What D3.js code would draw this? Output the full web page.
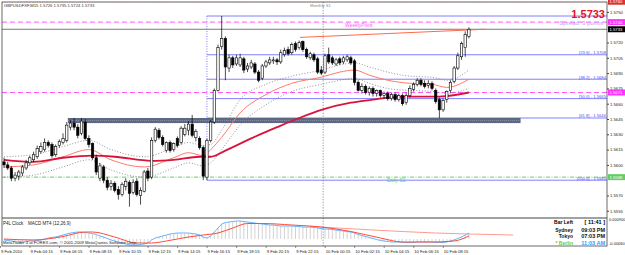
<!DOCTYPE html>
<html>
<head>
<meta charset="utf-8">
<script src="https://cdn.jsdelivr.net/npm/d3@7"></script>
<style>
  body { margin: 0; background: #fff; }
  svg text { font-family: "Liberation Sans", Arial, sans-serif; }
</style>
</head>
<body>
<div id="chart"></div>
<script>
// GBPUSD M15 bars, 9 Feb 02:15 .. 10 Feb 09:45
const opens = [1.5603,1.5600,1.5597,1.5587,1.5589,1.5592,1.5597,1.5602,1.5605,1.5608,
  1.5613,1.5615,1.5622,1.5620,1.5610,1.5619,1.5622,1.5624,1.5637,1.5641,
  1.5637,1.5631,1.5642,1.5626,1.5621,1.5607,1.5587,1.5598,1.5585,1.5579,
  1.5582,1.5576,1.5571,1.5579,1.5583,1.5573,1.5584,1.5570,1.5574,1.5594,
  1.5588,1.5624,1.5634,1.5627,1.5614,1.5622,1.5615,1.5626,1.5622,1.5630,
  1.5634,1.5640,1.5627,1.5626,1.5617,1.5588,1.5624,1.5642,1.5673,1.5716,
  1.5724,1.5695,1.5705,1.5699,1.5698,1.5704,1.5694,1.5696,1.5699,1.5691,
  1.5685,1.5697,1.5700,1.5702,1.5703,1.5701,1.5708,1.5713,1.5710,1.5719,
  1.5715,1.5721,1.5713,1.5705,1.5708,1.5704,1.5693,1.5691,1.5708,1.5705,
  1.5699,1.5704,1.5701,1.5703,1.5705,1.5702,1.5681,1.5673,1.5677,1.5671,
  1.5675,1.5670,1.5673,1.5668,1.5670,1.5665,1.5669,1.5664,1.5668,1.5661,
  1.5668,1.5674,1.5679,1.5683,1.5680,1.5678,1.5680,1.5673,1.5664,1.5654,
  1.5664,1.5673,1.5682,1.5695,1.5706,1.5715,1.5726];
const highs = [1.5607,1.5603,1.5599,1.5593,1.5595,1.5600,1.5605,1.5609,1.5613,1.5619,
  1.5622,1.5626,1.5624,1.5622,1.5620,1.5625,1.5631,1.5642,1.5644,1.5646,
  1.5640,1.5646,1.5645,1.5629,1.5622,1.5610,1.5602,1.5600,1.5588,1.5585,
  1.5584,1.5579,1.5583,1.5587,1.5585,1.5586,1.5587,1.5578,1.5595,1.5597,
  1.5627,1.5637,1.5636,1.5629,1.5623,1.5624,1.5622,1.5628,1.5638,1.5640,
  1.5643,1.5649,1.5635,1.5628,1.5619,1.5626,1.5644,1.5675,1.5718,1.5746,
  1.5726,1.5708,1.5707,1.5708,1.5709,1.5706,1.5700,1.5703,1.5701,1.5693,
  1.5699,1.5703,1.5706,1.5706,1.5705,1.5713,1.5715,1.5716,1.5720,1.5721,
  1.5722,1.5722,1.5715,1.5711,1.5710,1.5706,1.5697,1.5709,1.5715,1.5707,
  1.5705,1.5706,1.5707,1.5708,1.5707,1.5704,1.5683,1.5680,1.5679,1.5677,
  1.5677,1.5674,1.5674,1.5672,1.5672,1.5671,1.5671,1.5670,1.5670,1.5671,
  1.5678,1.5681,1.5685,1.5685,1.5683,1.5683,1.5682,1.5675,1.5666,1.5665,
  1.5673,1.5683,1.5697,1.5710,1.5721,1.5731,1.5735];
const lows = [1.5597,1.5595,1.5584,1.5584,1.5585,1.5589,1.5595,1.5600,1.5603,1.5606,
  1.5611,1.5613,1.5617,1.5607,1.5608,1.5617,1.5620,1.5622,1.5634,1.5634,
  1.5626,1.5629,1.5624,1.5617,1.5605,1.5590,1.5584,1.5582,1.5575,1.5575,
  1.5573,1.5566,1.5569,1.5575,1.5559,1.5571,1.5569,1.5561,1.5573,1.5584,
  1.5586,1.5622,1.5625,1.5618,1.5612,1.5612,1.5613,1.5617,1.5620,1.5628,
  1.5629,1.5627,1.5623,1.5615,1.5585,1.5585,1.5622,1.5640,1.5672,1.5713,
  1.5683,1.5691,1.5695,1.5697,1.5696,1.5690,1.5691,1.5694,1.5689,1.5681,
  1.5683,1.5695,1.5698,1.5699,1.5698,1.5699,1.5706,1.5707,1.5708,1.5711,
  1.5713,1.5711,1.5704,1.5703,1.5701,1.5689,1.5688,1.5689,1.5699,1.5698,
  1.5697,1.5698,1.5699,1.5701,1.5698,1.5678,1.5672,1.5670,1.5669,1.5668,
  1.5667,1.5667,1.5666,1.5665,1.5663,1.5663,1.5662,1.5662,1.5658,1.5659,
  1.5666,1.5672,1.5677,1.5677,1.5675,1.5675,1.5673,1.5660,1.5646,1.5652,
  1.5661,1.5671,1.5680,1.5693,1.5703,1.5706,1.5724];
const closes = [1.5600,1.5597,1.5587,1.5590,1.5593,1.5598,1.5602,1.5607,1.5610,1.5616,
  1.5618,1.5622,1.5619,1.5609,1.5618,1.5623,1.5626,1.5639,1.5641,1.5637,
  1.5629,1.5643,1.5626,1.5620,1.5607,1.5593,1.5599,1.5585,1.5578,1.5582,
  1.5575,1.5571,1.5581,1.5584,1.5572,1.5583,1.5571,1.5575,1.5593,1.5587,
  1.5624,1.5635,1.5627,1.5620,1.5622,1.5614,1.5621,1.5619,1.5636,1.5636,
  1.5640,1.5629,1.5633,1.5617,1.5589,1.5624,1.5642,1.5673,1.5715,1.5724,
  1.5696,1.5705,1.5698,1.5705,1.5705,1.5693,1.5697,1.5700,1.5691,1.5683,
  1.5697,1.5701,1.5703,1.5703,1.5701,1.5710,1.5712,1.5709,1.5718,1.5713,
  1.5720,1.5713,1.5706,1.5709,1.5703,1.5691,1.5690,1.5707,1.5701,1.5700,
  1.5703,1.5700,1.5705,1.5706,1.5700,1.5681,1.5673,1.5677,1.5671,1.5675,
  1.5670,1.5673,1.5668,1.5670,1.5665,1.5669,1.5664,1.5668,1.5660,1.5668,
  1.5675,1.5679,1.5683,1.5679,1.5677,1.5680,1.5675,1.5662,1.5654,1.5663,
  1.5672,1.5681,1.5695,1.5707,1.5719,1.5728,1.5733];

// moving averages / envelope, read at a few bars
const slowBars = [0,8,16,24,30,40,46,53,56,60,67,74,80,86,94,100,104,109,118,126];
const slowMA = [1.5605,1.5603,1.5607,1.5609,1.5608,1.5604,1.5605,1.5608,1.5608,1.5614,
  1.5626,1.5637,1.5646,1.5654,1.5661,1.5664,1.5666,1.5667,1.5667,1.5671];
const fastBars = [0,8,16,23,29,38,46,50,54,56,59,64,71,78,86,91,95,99,104,110,116,120,126];
const fastMA = [1.5598,1.5600,1.5608,1.5615,1.5605,1.5598,1.5607,1.5612,1.5609,1.5615,1.5627,
  1.5651,1.5669,1.5680,1.5686,1.5691,1.5693,1.5688,1.5683,1.5680,1.5679,1.5676,1.5684];
const bandUpper = [1.5608,1.5610,1.5618,1.5624,1.5615,1.5608,1.5617,1.5622,1.5619,1.5620,1.5634,
  1.5664,1.5679,1.5687,1.5693,1.5698,1.5700,1.5696,1.5691,1.5687,1.5686,1.5683,1.5693];
const bandLower = [1.5588,1.5590,1.5598,1.5605,1.5595,1.5588,1.5597,1.5602,1.5599,1.5602,1.5615,
  1.5639,1.5659,1.5672,1.5679,1.5683,1.5685,1.5680,1.5675,1.5673,1.5672,1.5670,1.5675];

// MACD (x 0.0001)
const macdMain = [-1,-1.5,-2,-2.5,-3,-3,-2.5,-2,-2,-1.5,
  -1,0,1,1.5,2,3,4,5,6,6.5,
  7,7,6.5,6,5.5,4.5,3,2,0.5,-1,
  -2,-3,-4,-5,-6,-6,-6,-5.5,-5,-4,
  -1,1,2,3,4,5,5.5,6,6,6,
  6,5.5,5,4,2,1,3,7,11,15,
  16.5,17,17.5,18,18,17.5,17,16.5,16,15.5,
  15,14.5,14,14,13.5,13,13,13,13,12.5,
  12.5,12,12,12,11.5,11,10.5,10,10,9.5,
  9,8.5,8,7.5,7,6,4.5,3.5,2.5,1.5,
  0.5,-0.5,-1.5,-2,-2.5,-3,-3,-3,-3.5,-3.5,
  -3.5,-3.5,-3,-3,-3,-3,-3,-3.5,-3.5,-3.5,
  -3,-2,-1,0.5,2,4,6];
const signalBars = [0,8,16,22,24,30,36,40,44,50,54,58,62,66,70,78,86,94,102,108,116,122,126];
const signalVals = [0,-1,2.5,7,7,2,-4,-4,-2,2,4,6,11,15.5,15.5,14,12,7.5,1,-3,-3,-2,3];
// shifted slow line that runs past the last bar
const shiftBars = [83,100,117,126,138];
const shiftVals = [12.5,9,6,5,4];

// objects
const fibRatios = ['0.0','23.6','38.2','50.0','61.8','100.0'];
const fibPrices = [1.5746,1.5708,1.5684,1.5665,1.5646,1.5585];
const fibStartBar = 55;
const bidPrice = 1.5733, weeklyPivot = 1.5740, dailyPivot = 1.5671, dailyS1 = 1.5588, monthlyLine = 1.5760;
const zonePrices = [1.5646, 1.5641], zoneBars = [17.3, 140];
const trendBars = [80.2, 130.4], trendPrices = [1.5725, 1.5733];
const separatorBar = 86.5;

// 1.5735 and 1.5585 sit under the price boxes
const priceTicks = [1.5750,1.5720,1.5705,1.5690,1.5675,1.5660,1.5645,1.5630,1.5615,1.5600,1.5570,1.5555];
const timeLabels = ['9 Feb 2010','9 Feb 04:15','9 Feb 06:15','9 Feb 08:15','9 Feb 10:15','9 Feb 12:15',
  '9 Feb 14:15','9 Feb 16:15','9 Feb 18:15','9 Feb 20:15','9 Feb 22:15','10 Feb 00:15',
  '10 Feb 02:15','10 Feb 04:15','10 Feb 06:15','10 Feb 08:15'];

const W = 625, H = 255;
const L = 2, R = 607, T = 2, MB = 218, IB = 246;

const svg = d3.select('#chart').append('svg').attr('width', W).attr('height', H);

const x = d3.scaleLinear().domain([0, 126]).range([4, 468.9]);
const y = d3.scaleLinear().domain([1.5746, 1.5585]).range([16, 180.2]);
const ym = d3.scaleLinear().domain([0, 18]).range([239, 221]);

svg.append('clipPath').attr('id', 'cm').append('rect').attr('x', L).attr('y', T).attr('width', R - L).attr('height', MB - T);
svg.append('clipPath').attr('id', 'ci').append('rect').attr('x', L).attr('y', MB).attr('width', R - L).attr('height', IB - MB);

const main = svg.append('g').attr('clip-path', 'url(#cm)');
const ind = svg.append('g').attr('clip-path', 'url(#ci)');

// horizontal levels
function hline(g, price, x1, color, dash, w) {
  g.append('line').attr('x1', x1).attr('x2', R).attr('y1', y(price)).attr('y2', y(price))
    .attr('stroke', color).attr('stroke-width', w || 1).attr('stroke-dasharray', dash || null);
}
hline(main, monthlyLine, L, '#e05050', '1,1.5');
hline(main, weeklyPivot, L, '#ff55ff', '5,3');
hline(main, bidPrice, L, '#555', null, 0.8);
hline(main, dailyPivot, L, '#ff55ff', '5,3');
hline(main, dailyS1, L, '#66cc66', '4,1.5,1,1.5');

fibPrices.forEach((p, k) => {
  hline(main, p, x(fibStartBar), '#7070ff', null, 0.9);
  if (k > 0) {
    main.append('text').attr('x', 606).attr('y', y(p) - 0.6).attr('text-anchor', 'end')
      .attr('font-size', 4.2).attr('fill', '#5050ee').text('[' + fibRatios[k] + '] - ' + p.toFixed(4));
  }
});
main.append('line').attr('x1', x(fibStartBar)).attr('x2', x(fibStartBar))
  .attr('y1', y(fibPrices[0])).attr('y2', y(fibPrices[5]))
  .attr('stroke', '#6060ff').attr('stroke-width', 0.8).attr('stroke-dasharray', '1,1.5');

// support zone
main.append('rect').attr('x', x(zoneBars[0])).attr('width', x(zoneBars[1]) - x(zoneBars[0]))
  .attr('y', y(zonePrices[0])).attr('height', y(zonePrices[1]) - y(zonePrices[0]))
  .attr('fill', '#5d6885');
main.append('line').attr('x1', x(zoneBars[0])).attr('x2', x(zoneBars[1]))
  .attr('y1', (y(zonePrices[0]) + y(zonePrices[1])) / 2).attr('y2', (y(zonePrices[0]) + y(zonePrices[1])) / 2)
  .attr('stroke', '#8a93a8').attr('stroke-width', 1).attr('stroke-dasharray', '1,1');

// period separator
svg.append('line').attr('x1', x(separatorBar)).attr('x2', x(separatorBar)).attr('y1', T).attr('y2', IB)
  .attr('stroke', '#777').attr('stroke-width', 0.8).attr('stroke-dasharray', '1.2,1.5');

// trend line
main.append('line').attr('x1', x(trendBars[0])).attr('x2', x(trendBars[1]))
  .attr('y1', y(trendPrices[0])).attr('y2', y(trendPrices[1]))
  .attr('stroke', '#ff6a4a').attr('stroke-width', 1);

// indicator lines
const curve = d3.curveMonotoneX;
const lineOf = (bars, vals, sc) => d3.line().x((d, k) => x(bars[k])).y(d => sc(d)).curve(curve)(vals);
main.append('path').attr('d', lineOf(fastBars, bandUpper, y)).attr('fill', 'none')
  .attr('stroke', '#777').attr('stroke-width', 0.8).attr('stroke-dasharray', '1,1.8');
main.append('path').attr('d', lineOf(fastBars, bandLower, y)).attr('fill', 'none')
  .attr('stroke', '#777').attr('stroke-width', 0.8).attr('stroke-dasharray', '1,1.8');
main.append('path').attr('d', lineOf(fastBars, fastMA, y)).attr('fill', 'none')
  .attr('stroke', '#ff7a68').attr('stroke-width', 1);
main.append('path').attr('d', lineOf(slowBars, slowMA, y)).attr('fill', 'none')
  .attr('stroke', '#d8143c').attr('stroke-width', 1.8);

// candles
const bars = opens.map((o, i) => ({ i, o, h: highs[i], l: lows[i], c: closes[i] }));
main.selectAll('line.wick').data(bars).join('line').attr('class', 'wick')
  .attr('x1', d => x(d.i)).attr('x2', d => x(d.i))
  .attr('y1', d => y(d.h)).attr('y2', d => y(d.l))
  .attr('stroke', '#000').attr('stroke-width', 0.7);
main.selectAll('rect.body').data(bars).join('rect').attr('class', 'body')
  .attr('x', d => x(d.i) - 1.2).attr('width', 2.4)
  .attr('y', d => y(Math.max(d.o, d.c)))
  .attr('height', d => Math.max(0.6, Math.abs(y(d.o) - y(d.c))))
  .attr('fill', d => d.c >= d.o ? '#fff' : '#000')
  .attr('stroke', '#000').attr('stroke-width', 0.6);

// MACD window
ind.selectAll('line.hist').data(macdMain).join('line').attr('class', 'hist')
  .attr('x1', (d, i) => x(i)).attr('x2', (d, i) => x(i))
  .attr('y1', ym(0)).attr('y2', d => ym(d))
  .attr('stroke', '#b4b4b4').attr('stroke-width', 0.6);
ind.append('path').attr('d', lineOf(shiftBars, shiftVals, ym))
  .attr('fill', 'none').attr('stroke', '#ff9a90').attr('stroke-width', 1);
ind.append('path').attr('d', d3.line().x((d, i) => x(i)).y(d => ym(d))(macdMain))
  .attr('fill', 'none').attr('stroke', '#66b3ff').attr('stroke-width', 1);
ind.append('path').attr('d', lineOf(signalBars, signalVals, ym))
  .attr('fill', 'none').attr('stroke', '#ff4a3a').attr('stroke-width', 1);

// frame
svg.append('rect').attr('x', L).attr('y', T).attr('width', R - L).attr('height', IB - T)
  .attr('fill', 'none').attr('stroke', '#444').attr('stroke-width', 0.8);
svg.append('line').attr('x1', L).attr('x2', R).attr('y1', MB).attr('y2', MB).attr('stroke', '#444').attr('stroke-width', 1.2);

// price axis
const ax = svg.append('g').attr('transform', `translate(${R},0)`)
  .call(d3.axisRight(y).tickValues(priceTicks).tickSize(2).tickPadding(1).tickFormat(d3.format('.4f')));
ax.select('.domain').remove();
ax.selectAll('text').attr('font-size', 4.2).attr('fill', '#222').attr('font-family', '"Liberation Sans", Arial, sans-serif');
ax.selectAll('line').attr('stroke', '#444');

const boxes = [[monthlyLine, '#e03030'], [weeklyPivot, '#ff33ff'], [bidPrice, '#000'], [dailyPivot, '#ff33ff'], [dailyS1, '#66cc66']];
boxes.forEach(([p, col]) => {
  const g = svg.append('g');
  g.append('rect').attr('x', R + 1).attr('y', y(p) - 3).attr('width', 17).attr('height', 6).attr('fill', col);
  g.append('text').attr('x', R + 2.5).attr('y', y(p) + 1.6).attr('font-size', 4.2).attr('fill', '#fff').text(p.toFixed(4));
});

// time axis
timeLabels.forEach((t, k) => {
  const bx = x(k * 8) - 3;
  svg.append('line').attr('x1', bx - 0.5).attr('x2', bx - 0.5).attr('y1', IB).attr('y2', IB + 2).attr('stroke', '#444').attr('stroke-width', 0.6);
  svg.append('text').attr('x', bx).attr('y', 252.5).attr('font-size', 4.2).attr('fill', '#222').text(t);
});

// texts
const txt = (tx, ty, s, size, color, opts = {}) => svg.append('text').attr('x', tx).attr('y', ty)
  .attr('font-size', size).attr('fill', color).attr('text-anchor', opts.anchor || 'start')
  .attr('font-weight', opts.bold ? 'bold' : 'normal').text(s);

txt(4, 7, 'GBPUSDFXF,M15  1.5726 1.5735 1.5724 1.5733', 4.2, '#333');
txt(310, 7, 'Monthly S1', 4.2, '#888');
txt(345, 27, 'WeeklyPivot', 5, '#ff55ff');
txt(603, 24.5, 'Spread: 3 points', 6, '#c49cf0', { anchor: 'end' });
txt(605, 17.5, bidPrice.toFixed(4), 11, '#e8102a', { anchor: 'end', bold: true });
txt(387, 182, 'Daily S1', 5, '#66cc66');

txt(3, 224.5, 'P4L Clock', 4.5, '#222');
txt(28, 224.5, 'MACD MT4 (12,26,9)', 4.5, '#222');
txt(3, 244, 'MetaTrader 4 at FOREX.com, \u00a9 2001-2009 MetaQuotes Software Corp.', 4.2, '#222');

txt(573, 224, 'Bar Left', 5, '#000', { anchor: 'end', bold: true });
txt(605, 224, '[ 11:41 ]', 5.5, '#000', { anchor: 'end', bold: true });
txt(573, 232, 'Sydney', 5, '#111', { anchor: 'end', bold: true });
txt(605, 232, '09:03 PM', 5.5, '#111', { anchor: 'end', bold: true });
txt(573, 238, 'Tokyo', 5, '#111', { anchor: 'end', bold: true });
txt(605, 238, '07:03 PM', 5.5, '#111', { anchor: 'end', bold: true });
txt(573, 244.5, '* Berlin', 5, '#66cc44', { anchor: 'end', bold: true });
txt(605, 244.5, '11:03 AM', 5.5, '#3399ff', { anchor: 'end', bold: true });

txt(609, 221, '0.000900', 4, '#222');
txt(609, 245, '-0.00060', 4, '#222');
</script>
</body>
</html>
